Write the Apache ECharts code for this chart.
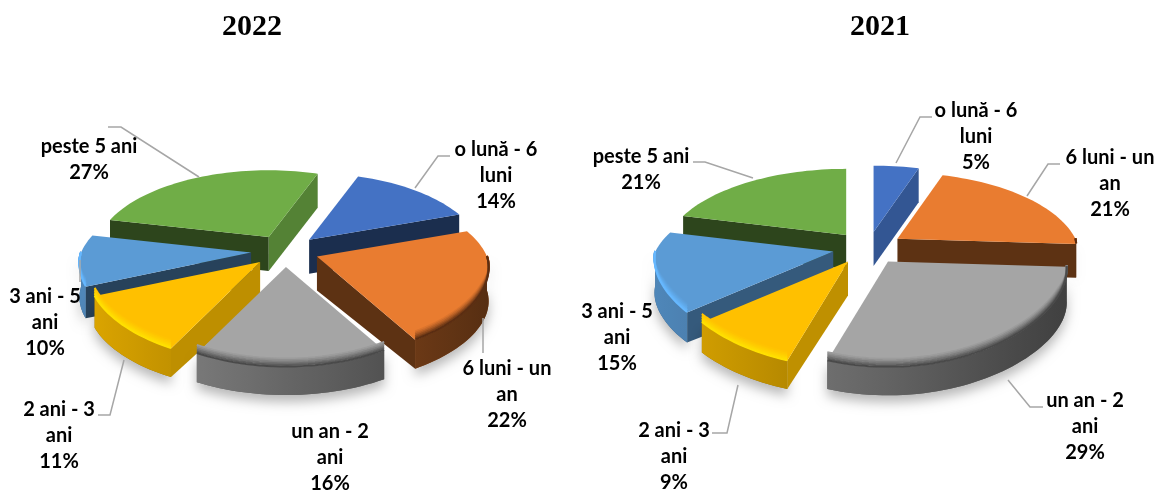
<!DOCTYPE html>
<html>
<head>
<meta charset="utf-8">
<script src="https://cdn.jsdelivr.net/npm/echarts@6/dist/echarts.min.js"></script>
<style>
  html, body { margin: 0; padding: 0; background: #fff; }
  #chart { width: 1156px; height: 490px; }
</style>
</head>
<body>
<div id="chart"></div>
<script>
const categories = ['o lună - 6\nluni', '6 luni - un\nan', 'un an - 2\nani', '2 ani - 3\nani', '3 ani - 5\nani', 'peste 5 ani']
const values2022 = [14, 22, 16, 11, 10, 27]
const values2021 = [5, 21, 29, 9, 15, 21]

const sliceColors = ['#4472C4', '#E97C30', '#A5A5A5', '#FFC000', '#5B9BD5', '#70AD47']
const bevelColors = ['#4472C4', '#5A2D12', '#4A4A4A', '#FFE000', '#66B8FF', '#70AD47']

// projection of each tilted pie: centre, radius, vertical squash, perspective
const pie2022 = {
  cx: 285, cy: 251, rx: 170, k: 80, p: 0.2, xp: 0.7, startAngle: 20,
  labels: [[496, 150], [507, 369], [330, 432], [59, 410], [45, 297], [89, 147]],
  leaders: [
    [[450, 156], [438, 156], [415, 188]],
    [[483, 318], [483, 353]],
    null,
    [[98, 415], [110, 415], [124, 360]],
    [[80, 260], [80, 282]],
    [[108, 127], [121, 127], [199, 177]]
  ]
}
const pie2021 = {
  cx: 868, cy: 248, rx: 178, k: 81.5, p: 0.23, xp: 0.4, startAngle: 0,
  labels: [[976, 111], [1110, 158], [1085, 401], [674, 431], [617, 312], [641, 157]],
  leaders: [
    [[932, 117], [920, 117], [896, 163]],
    [[1060, 164], [1048, 164], [1027, 196]],
    [[1043, 407], [1030, 407], [1008, 380]],
    [[712, 433], [727, 433], [738, 385]],
    null,
    [[693, 162], [705, 162], [753, 178]]
  ]
}
const explode = 0.2

function shade(hex, f) {
  const n = parseInt(hex.slice(1), 16)
  return `rgb(${Math.round((n >> 16) * f)},${Math.round(((n >> 8) & 255) * f)},${Math.round((n & 255) * f)})`
}

function mix(a, b, t) {
  const x = parseInt(a.slice(1), 16)
  const y = parseInt(b.slice(1), 16)
  const c = s => Math.round(((x >> s) & 255) * (1 - t) + ((y >> s) & 255) * t)
  return `rgb(${c(16)},${c(8)},${c(0)})`
}

function rad(d) {
  return d * Math.PI / 180
}

function project(pie, tip, angle, f) {
  const u = Math.sin(rad(angle)) * f
  const v = -Math.cos(rad(angle)) * f
  const s = 1 / (1 - pie.p * v)
  const sx = v > 0 ? Math.pow(s, pie.xp) : s
  return [tip[0] + pie.rx * u * sx, tip[1] + pie.k * v * s]
}

function depthAt(angle) {
  const v = -Math.cos(rad(angle))
  return v > 0 ? 34 - 6 * v : 34
}

function down(pt, d) {
  return [pt[0], pt[1] + d]
}

function sweep(from, to) {
  const out = []
  for (let a = from; a < to; a += 2) out.push(a)
  out.push(to)
  return out
}

function makeRenderItem(pie, values) {
  const total = values.reduce((a, b) => a + b, 0)
  return function(params) {
    const i = params.dataIndex
    const before = values.slice(0, i).reduce((a, b) => a + b, 0)
    const a1 = pie.startAngle + before / total * 360
    const a2 = a1 + values[i] / total * 360
    const mid = (a1 + a2) / 2
    const color = sliceColors[i]
    const tip = [
      pie.cx + explode * pie.rx * Math.sin(rad(mid)),
      pie.cy - explode * pie.k * Math.cos(rad(mid))
    ]
    const zBase = Math.round(tip[1]) * 10
    const arc = sweep(a1, a2).map(a => project(pie, tip, a, 1))
    const children = []

    // the part of the outer wall that can be seen is the front half
    const frontFrom = Math.max(a1, 90)
    const frontTo = Math.min(a2, 270)
    const front = frontFrom < frontTo ? sweep(frontFrom, frontTo) : []
    if (front.length > 1) {
      const rimTop = front.map(a => project(pie, tip, a, 1))
      const rimLow = front.map((a, n) => down(rimTop[n], depthAt(a)))
      const rimPoints = rimTop.concat(rimLow.slice().reverse())
      // soft shadow under the slice
      children.push({
        type: 'polygon',
        z2: zBase,
        shape: { points: rimPoints },
        style: {
          fill: shade(color, 0.6),
          shadowBlur: 12,
          shadowColor: 'rgba(0,0,0,0.28)',
          shadowOffsetY: 7
        }
      })
      // lighter on the left than on the right
      const xs = rimLow.map(p => p[0])
      const minX = Math.min(...xs)
      const maxX = Math.max(...xs)
      const stops = [0, 0.25, 0.5, 0.75, 1].map(t => {
        const sn = (minX + (maxX - minX) * t - pie.cx) / (pie.rx * 1.2)
        return { offset: t, color: shade(color, 0.62 - 0.25 * Math.max(-1, Math.min(1, sn))) }
      })
      children.push({
        type: 'polygon',
        z2: zBase + 2,
        shape: { points: rimPoints },
        style: { fill: new echarts.graphic.LinearGradient(0, 0, 1, 0, stops) }
      })
    }

    // the two cut walls, only when they face the viewer
    const wall = (angle, normal) => {
      if (-Math.cos(rad(normal)) <= 0) return
      const edge = project(pie, tip, angle, 1)
      const sn = Math.sin(rad(normal))
      const f = 0.4 + 0.35 * Math.max(0, Math.min(1, (sn - 0.35) / 0.55))
      children.push({
        type: 'polygon',
        z2: zBase + 1,
        shape: { points: [tip, edge, down(edge, depthAt(angle)), down(tip, 34)] },
        style: { fill: shade(color, f) }
      })
    }
    wall(a1, a1 + 270)
    wall(a2, a2 + 90)

    // top face
    children.push({
      type: 'polygon',
      z2: zBase + 3,
      shape: { points: [tip].concat(arc) },
      style: { fill: color }
    })

    // bevel along the front edge of the top face
    if (front.length > 1) {
      const steps = 6
      for (let j = steps - 1; j >= 0; j--) {
        children.push({
          type: 'polyline',
          z2: zBase + 4 + (steps - j),
          shape: {
            points: front.map(a => {
              const v = -Math.cos(rad(a))
              const pt = project(pie, tip, a, 1)
              return [pt[0], pt[1] - j * 1.6 * Math.min(1, v * 2.5) - 0.5]
            })
          },
          style: {
            stroke: mix(color, bevelColors[i], Math.pow(1 - j / steps, 1.3)),
            lineWidth: 2,
            fill: null
          }
        })
      }
    }

    const leader = pie.leaders[i]
    if (leader) {
      children.push({
        type: 'polyline',
        z2: 9000,
        shape: { points: leader },
        style: { stroke: '#A6A6A6', lineWidth: 1.5, fill: null }
      })
    }

    const at = pie.labels[i]
    children.push({
      type: 'text',
      z2: 9001,
      style: {
        x: at[0],
        y: at[1] - 13,
        text: categories[i] + '\n' + values[i] + '%',
        font: 'bold 20px Lato, "Noto Sans", sans-serif',
        lineHeight: 26,
        fill: '#000',
        align: 'center',
        verticalAlign: 'top'
      }
    })

    return { type: 'group', children }
  }
}

const chart = echarts.init(document.getElementById('chart'), null, { renderer: 'canvas' })
chart.setOption({
  animation: false,
  backgroundColor: '#fff',
  title: [
    {
      text: '2022', left: 247, top: 7, textAlign: 'center',
      textStyle: { fontFamily: '"Liberation Serif", serif', fontWeight: 'bold', fontSize: 30, color: '#000' }
    },
    {
      text: '2021', left: 875, top: 7, textAlign: 'center',
      textStyle: { fontFamily: '"Liberation Serif", serif', fontWeight: 'bold', fontSize: 30, color: '#000' }
    }
  ],
  series: [
    {
      type: 'custom',
      name: '2022',
      coordinateSystem: 'none',
      silent: true,
      data: values2022,
      renderItem: makeRenderItem(pie2022, values2022)
    },
    {
      type: 'custom',
      name: '2021',
      coordinateSystem: 'none',
      silent: true,
      data: values2021,
      renderItem: makeRenderItem(pie2021, values2021)
    }
  ]
})
</script>
</body>
</html>
